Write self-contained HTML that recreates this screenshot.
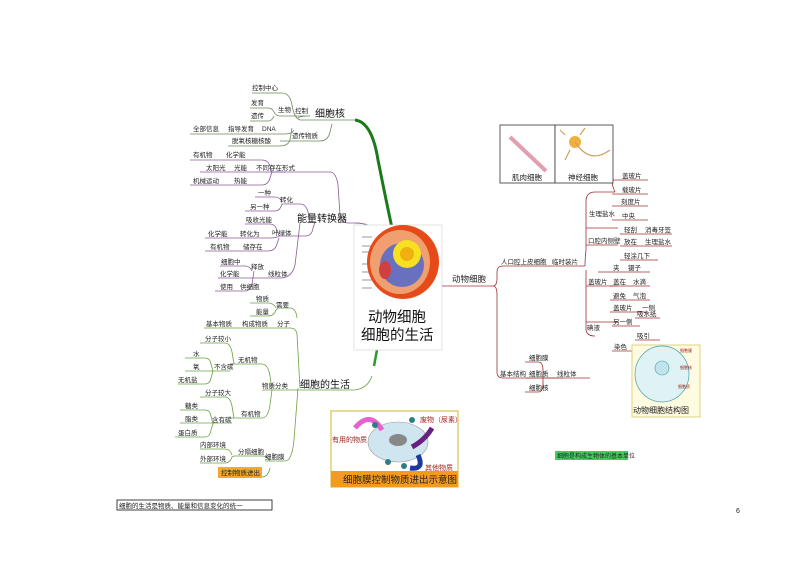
<!DOCTYPE html>
<html><head><meta charset="utf-8"><style>
html,body{margin:0;padding:0;background:#fff;}
svg{display:block;}
text{font-family:"Liberation Sans","Noto Sans CJK SC",sans-serif;font-size:6.5px;fill:#222;}
.b{font-size:10px;fill:#111;}
.m{font-size:8px;}
</style></head><body>
<svg width="794" height="561" viewBox="0 0 794 561" xmlns="http://www.w3.org/2000/svg">
<g stroke="#6a8a5a" stroke-width="0.8" fill="none">
<path d="M252 93H282Q290 93 292 105Q294 118 300 120H355"/>
<path d="M250 108H268Q272 108 274 112Q276 116 280 116H310Q300 116 298 118"/>
<path d="M250 121H268Q272 121 274 116"/>
<path d="M190 134H285Q292 134 294 130"/>
<path d="M228 146H280Q288 146 290 140L292 128"/>
<path d="M280 141H320Q328 141 330 132L332 124"/>
</g>
<path d="M355 120Q372 122 378 160Q386 200 392 228" stroke="#1a7a1a" stroke-width="3" fill="none"/>
<text x="252" y="90">控制中心</text>
<text class="b" x="315" y="117">细胞核</text>
<text x="251" y="105">发育</text><text x="251" y="118">遗传</text>
<text x="278" y="112">生物</text><text x="295" y="113">控制</text>
<text x="193" y="131">全部信息</text><text x="228" y="131">指导发育</text><text x="262" y="131">DNA</text>
<text x="292" y="138">遗传物质</text><text x="232" y="143">脱氧核糖核酸</text>
<g stroke="#8a5a9a" stroke-width="0.8" fill="none">
<path d="M190 160H262Q268 160 270 166L272 172"/>
<path d="M200 172H285"/>
<path d="M190 185H262Q268 185 270 178L272 172"/>
<path d="M270 172H330Q336 172 338 185L340 215Q342 223 348 223H355"/>
<path d="M255 197H275Q280 197 282 202"/>
<path d="M245 211H275Q280 211 282 204L284 204H300Q306 204 308 212L310 223"/>
<path d="M245 224H270Q275 224 277 230L279 236"/>
<path d="M205 238H270Q277 238 279 236H305Q312 236 313 228L315 222"/>
<path d="M205 251H268Q275 251 277 244L279 238"/>
<path d="M220 266H245Q250 266 252 271"/>
<path d="M218 278H280Q292 278 295 265L300 223"/>
<path d="M215 291H245Q250 291 252 284L254 271"/>
<path d="M355 223Q370 223 378 232" stroke-width="1"/>
</g>
<text x="193" y="157">有机物</text><text x="226" y="157">化学能</text>
<text x="206" y="170">太阳光</text><text x="234" y="170">光能</text><text x="256" y="170">不同存在形式</text>
<text x="193" y="183">机械运动</text><text x="234" y="183">热能</text>
<text x="258" y="195">一种</text><text x="280" y="202">转化</text><text x="250" y="209">另一种</text>
<text class="b" x="297" y="222">能量转换器</text>
<text x="246" y="222">吸收光能</text>
<text x="208" y="236">化学能</text><text x="240" y="236">转化为</text><text x="272" y="235">叶绿体</text>
<text x="210" y="249">有机物</text><text x="243" y="249">储存在</text>
<text x="221" y="264">细胞中</text><text x="251" y="269">释放</text>
<text x="220" y="276">化学能</text><text x="268" y="276">线粒体</text>
<text x="220" y="289">使用</text><text x="240" y="289">供细胞</text>
<g stroke="#6aa040" stroke-width="0.8" fill="none">
<path d="M250 303H268Q274 303 276 308"/>
<path d="M250 316H268Q274 316 276 310L278 308H290Q296 308 297 318"/>
<path d="M204 328H290Q296 328 297 334L300 388"/>
<path d="M200 343H225Q230 343 232 352L234 364"/>
<path d="M230 364H262Q268 364 270 376L272 390"/>
<path d="M185 358H205Q210 358 211 364L213 371"/>
<path d="M185 371H230"/>
<path d="M178 384H205Q210 384 211 378L213 371"/>
<path d="M262 390H355Q368 388 372 376"/>
<path d="M200 397H225Q230 397 232 406L234 418"/>
<path d="M230 418H262Q268 418 270 405L272 390"/>
<path d="M180 410H205Q210 410 211 416L213 424"/>
<path d="M180 423H232"/>
<path d="M175 437H205Q210 437 211 430L213 424"/>
<path d="M200 449H225Q230 449 232 455"/>
<path d="M200 463H225Q230 463 232 457L234 456H262Q268 456 270 461"/>
<path d="M265 461H285Q292 461 294 440L298 388"/>
<path d="M262 477Q268 477 270 468"/>
</g>
<path d="M377 350L374 366" stroke="#2a9a2a" stroke-width="2.5"/>
<text x="256" y="301">物质</text><text x="256" y="314">能量</text><text x="276" y="307">需要</text>
<text x="206" y="326">基本物质</text><text x="242" y="326">构成物质</text><text x="277" y="326">分子</text>
<text x="205" y="341">分子较小</text><text x="238" y="362">无机物</text>
<text x="193" y="356">水</text><text x="193" y="369">氧</text><text x="214" y="369">不含碳</text>
<text x="178" y="382">无机盐</text><text x="262" y="388">物质分类</text>
<text class="b" x="300" y="388">细胞的生活</text>
<text x="205" y="395">分子较大</text><text x="241" y="416">有机物</text>
<text x="185" y="408">糖类</text><text x="185" y="421">脂类</text><text x="212" y="422">含有碳</text>
<text x="178" y="435">蛋白质</text>
<text x="200" y="447">内部环境</text><text x="200" y="461">外部环境</text>
<text x="238" y="454">分隔细胞</text><text x="265" y="459">细胞膜</text>
<rect x="218" y="467" width="44" height="11" fill="#f4a830"/>
<text x="221" y="475">控制物质进出</text>
<rect x="354" y="225" width="88" height="125" fill="#fff" stroke="#ddd" stroke-width="0.8"/>
<g stroke="#333" stroke-width="0.5">
<path d="M362 237H372M362 246H372M362 252H372M362 264H372M362 272H372M362 280H372M362 288H372"/>
</g>
<ellipse cx="403" cy="262" rx="36" ry="37" fill="#e64a18"/>
<ellipse cx="400" cy="262" rx="30" ry="32" fill="#f0a070"/>
<ellipse cx="402" cy="265" rx="22" ry="22" fill="#6a70c0"/>
<circle cx="407" cy="254" r="14" fill="#f6e020"/>
<circle cx="407" cy="254" r="7" fill="#f0b010"/>
<ellipse cx="385" cy="270" rx="6" ry="9" fill="#d04040"/>
<text x="368" y="322" style="font-size:14.5px;fill:#111">动物细胞</text>
<text x="361" y="340" style="font-size:14.5px;fill:#111">细胞的生活</text>
<rect x="331" y="411" width="127" height="76" fill="#fff" stroke="#d8c050" stroke-width="1.2"/>
<rect x="331" y="471" width="127" height="16" fill="#f49a20"/>
<text x="343" y="483" style="font-size:9.5px;fill:#222">细胞膜控制物质进出示意图</text>
<ellipse cx="398" cy="442" rx="30" ry="20" fill="#cfe6f0" stroke="#999" stroke-width="0.6"/>
<ellipse cx="398" cy="440" rx="9" ry="6" fill="#888"/>
<path d="M355 428Q370 410 382 430" stroke="#e860d0" stroke-width="5" fill="none"/>
<path d="M412 447Q425 440 432 428" stroke="#6a2080" stroke-width="5" fill="none"/>
<path d="M418 455Q425 470 410 468" stroke="#1a3aa0" stroke-width="5" fill="none"/>
<circle cx="375" cy="425" r="3" fill="#2a8080"/><circle cx="412" cy="420" r="3" fill="#2a8080"/>
<circle cx="388" cy="462" r="3" fill="#2a8080"/><circle cx="404" cy="466" r="3" fill="#2a8080"/>
<text x="332" y="442" style="font-size:7px;fill:#a02020">有用的物质</text>
<text x="420" y="422" style="font-size:7px;fill:#a02020">废物（尿素）</text>
<text x="425" y="470" style="font-size:7px;fill:#a02020">其他物质</text>
<g stroke="#a03030" stroke-width="0.8" fill="none">
<path d="M442 286H493"/>
<path d="M493 286Q497 286 497 278L497 272Q497 266 503 266H585"/>
<path d="M493 286Q497 286 497 295L497 372Q497 378 503 378H563"/>
<path d="M525 362H538Q543 362 543 370"/>
<path d="M525 392H538Q543 392 543 384L543 370"/>
<path d="M525 378H590"/>
<path d="M585 266Q585 258 586 250L586 200Q587 192 595 192H615"/>
<path d="M586 228H618M586 245H618M586 286H618M586 322H618"/>
<path d="M586 270L586 330Q587 336 595 336"/>
<path d="M612 180H648M612 194H648M615 192Q612 186 612 180"/>
<path d="M612 206H648M612 220H648"/>
<path d="M620 234H672M620 246H672M620 260H658"/>
<path d="M598 272H650M610 286H650M610 300H650"/>
<path d="M610 312H648M612 326H640M635 318H660M635 340H660"/>
<path d="M612 351H635"/>
</g>
<text x="452" y="282" style="font-size:8.5px">动物细胞</text>
<text x="501" y="264">人口腔上皮细胞</text><text x="552" y="264">临时装片</text>
<text x="622" y="178">盖玻片</text><text x="622" y="192">载玻片</text>
<text x="589" y="216">生理盐水</text>
<text x="621" y="204">刻度片</text><text x="622" y="218">中央</text>
<text x="624" y="232">轻刮</text><text x="645" y="232">消毒牙签</text>
<text x="588" y="243">口腔内侧壁</text>
<text x="624" y="244">放在</text><text x="645" y="244">生理盐水</text>
<text x="624" y="258">轻涂几下</text>
<text x="613" y="270">夹</text><text x="628" y="270">镊子</text>
<text x="588" y="284">盖玻片</text>
<text x="613" y="284">盖在</text><text x="633" y="284">水滴</text>
<text x="613" y="298">避免</text><text x="633" y="298">气泡</text>
<text x="613" y="310">盖玻片</text><text x="642" y="310">一侧</text>
<text x="613" y="324">另一侧</text><text x="637" y="316">吸水纸</text><text x="637" y="338">吸引</text>
<text x="587" y="330">碘液</text><text x="614" y="349">染色</text>
<text x="500" y="376">基本结构</text>
<text x="529" y="360">细胞膜</text><text x="529" y="376">细胞质</text><text x="557" y="376">线粒体</text>
<text x="529" y="390">细胞核</text>
<rect x="500" y="125" width="55" height="58" fill="#fff" stroke="#333" stroke-width="0.8"/>
<rect x="555" y="125" width="58" height="58" fill="#fff" stroke="#333" stroke-width="0.8"/>
<path d="M510 137L546 171" stroke="#e0a0b0" stroke-width="4"/>
<text x="512" y="180" style="font-size:7.5px">肌肉细胞</text>
<circle cx="575" cy="142" r="6" fill="#f0b040"/>
<path d="M575 142Q590 165 610 150M565 135L560 130M580 135L585 128M570 150L565 160" stroke="#d0a060" stroke-width="1.2" fill="none"/>
<text x="568" y="180" style="font-size:7.5px">神经细胞</text>
<rect x="632" y="345" width="68" height="72" fill="#fffbe0" stroke="#e0d080" stroke-width="1"/>
<ellipse cx="662" cy="374" rx="27" ry="28" fill="#dff2f4" stroke="#40a0b0" stroke-width="0.7"/>
<circle cx="662" cy="368" r="7" fill="#bfe4ea" stroke="#40a0b0" stroke-width="0.6"/>
<text x="633" y="413" style="font-size:8px">动物细胞结构图</text>
<text x="680" y="352" style="font-size:4px;fill:#a02020">细胞膜</text>
<text x="680" y="369" style="font-size:4px;fill:#a02020">细胞核</text>
<text x="678" y="388" style="font-size:4px;fill:#a02020">细胞质</text>
<rect x="555" y="451" width="73" height="9" fill="#40d060"/>
<text x="557" y="458" style="font-size:6px">细胞是构成生物体的基本单位</text>
<rect x="117" y="500" width="155" height="10" fill="#fff" stroke="#111" stroke-width="0.8"/>
<text x="119" y="508" style="font-size:6.5px">细胞的生活是物质、能量和信息变化的统一</text>
<text x="736" y="513" style="font-size:7px">6</text>
</svg>
</body></html>
